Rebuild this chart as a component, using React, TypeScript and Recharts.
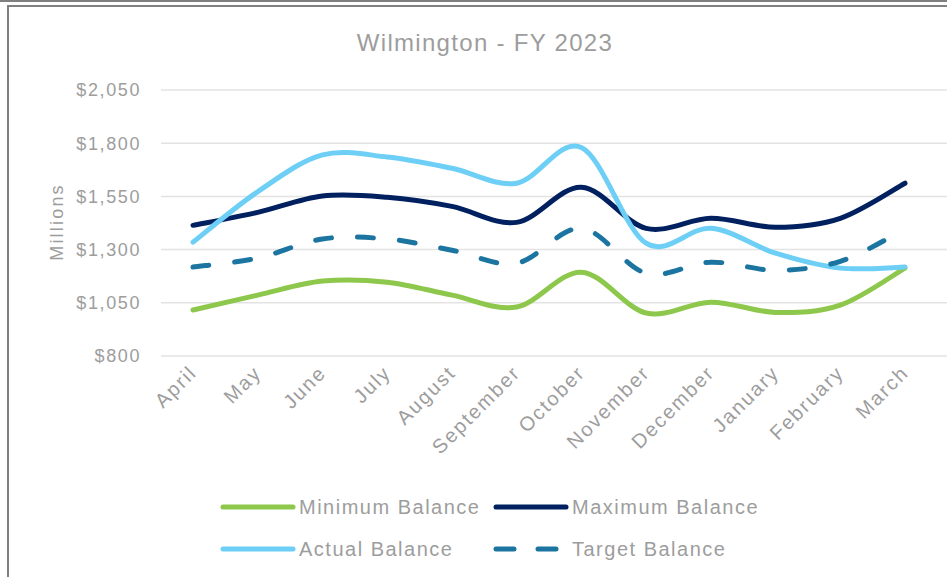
import { LineChart, Line, XAxis, YAxis, CartesianGrid } from 'recharts'

const months = ['April', 'May', 'June', 'July', 'August', 'September', 'October', 'November', 'December', 'January', 'February', 'March']
const minimumBalance = [1016, 1086, 1152, 1147, 1086, 1030, 1194, 1002, 1053, 1005, 1039, 1213]
const maximumBalance = [1414, 1475, 1552, 1546, 1503, 1428, 1593, 1400, 1447, 1405, 1447, 1612]
const actualBalance = [1335, 1572, 1745, 1735, 1682, 1612, 1780, 1330, 1400, 1283, 1213, 1218]
const targetBalance = [1218, 1260, 1350, 1350, 1297, 1236, 1400, 1189, 1241, 1203, 1245, 1396]
const yTicks = [800, 1050, 1300, 1550, 1800, 2050]

const data = months.map((month, i) => ({
  month,
  minimum: minimumBalance[i],
  maximum: maximumBalance[i],
  actual: actualBalance[i],
  target: targetBalance[i],
}))

const series = [
  { key: 'minimum', name: 'Minimum Balance', color: '#8DC74B', dash: undefined },
  { key: 'maximum', name: 'Maximum Balance', color: '#002060', dash: undefined },
  { key: 'actual', name: 'Actual Balance', color: '#6DCFF6', dash: undefined },
  { key: 'target', name: 'Target Balance', color: '#1B75A0', dash: '16 26' },
]

const TEXT = '#9D9D9D'
const FONT = '"Liberation Sans", Arial, sans-serif'

// Excel-style smoothed line (Catmull-Rom as cubic beziers)
const excelSmooth = (context: any) => {
  let pts: number[][] = []
  return {
    areaStart() {},
    areaEnd() {},
    lineStart() {
      pts = []
    },
    point(x: number, y: number) {
      pts.push([+x, +y])
    },
    lineEnd() {
      if (!pts.length) return
      context.moveTo(pts[0][0], pts[0][1])
      for (let i = 0; i < pts.length - 1; i++) {
        const p0 = pts[Math.max(i - 1, 0)]
        const p1 = pts[i]
        const p2 = pts[i + 1]
        const p3 = pts[Math.min(i + 2, pts.length - 1)]
        context.bezierCurveTo(
          p1[0] + (p2[0] - p0[0]) / 6,
          p1[1] + (p2[1] - p0[1]) / 6,
          p2[0] - (p3[0] - p1[0]) / 6,
          p2[1] - (p3[1] - p1[1]) / 6,
          p2[0],
          p2[1]
        )
      }
    },
  }
}

const MonthTick = ({ x, y, payload }: any) => {
  const tx = x + 5
  const ty = y + 18
  return (
    <text
      x={tx}
      y={ty}
      transform={`rotate(-45, ${tx}, ${ty})`}
      textAnchor="end"
      fill={TEXT}
      fontSize={20}
      letterSpacing={1.9}
      fontFamily={FONT}
    >
      {payload.value}
    </text>
  )
}

const YLabel = () => (
  <text
    x={57}
    y={222}
    transform="rotate(-90, 57, 222)"
    textAnchor="middle"
    dominantBaseline="central"
    fill={TEXT}
    fontSize={18}
    letterSpacing={2.2}
    fontFamily={FONT}
  >
    Millions
  </text>
)

const legendPos = [
  { left: 220, top: 507 },
  { left: 493, top: 507 },
  { left: 220, top: 549 },
  { left: 493, top: 549 },
]

export default function App() {
  return (
    <div style={{ position: 'absolute', left: 0, top: 0, width: 947, height: 577, background: '#fff', overflow: 'hidden' }}>
      <div style={{ position: 'absolute', left: 0, top: 0, width: 947, height: 2, background: '#7F7F7F' }} />
      <div style={{ position: 'absolute', left: 7, top: 5, width: 980, height: 620, borderLeft: '2px solid #808080', borderTop: '2px solid #808080' }} />
      <div
        style={{
          position: 'absolute',
          left: 0,
          top: 28,
          width: 970,
          textAlign: 'center',
          fontFamily: FONT,
          fontSize: 24,
          letterSpacing: 1.3,
          color: TEXT,
          lineHeight: '30px',
        }}
      >
        Wilmington - FY 2023
      </div>
      <div style={{ position: 'absolute', left: 0, top: 0 }}>
        <LineChart width={947} height={577} data={data} margin={{ top: 90, right: 0, left: 0, bottom: 0 }}>
          <CartesianGrid vertical={false} stroke="#E3E3E3" strokeWidth={1.5} />
          <XAxis
            dataKey="month"
            axisLine={false}
            tickLine={false}
            tickSize={0}
            tickMargin={0}
            height={221}
            interval={0}
            padding={{ left: 32, right: 42 }}
            tick={<MonthTick />}
          />
          <YAxis
            width={161}
            domain={[800, 2050]}
            ticks={yTicks}
            axisLine={false}
            tickLine={false}
            tickSize={0}
            tickMargin={20}
            tickFormatter={(v) => `$${v.toLocaleString('en-US')}`}
            tick={{ fill: TEXT, fontSize: 18, fontFamily: FONT, letterSpacing: 1.6 }}
            label={{ position: 'center', content: () => <YLabel /> }}
          />
          {series.map((s) => (
            <Line
              key={s.key}
              dataKey={s.key}
              name={s.name}
              type={excelSmooth as any}
              stroke={s.color}
              strokeWidth={5}
              strokeDasharray={s.dash}
              strokeLinecap="round"
              dot={false}
              activeDot={false}
              isAnimationActive={false}
            />
          ))}
        </LineChart>
      </div>
      {series.map((s, i) => (
        <div
          key={s.key}
          style={{
            position: 'absolute',
            left: legendPos[i].left,
            top: legendPos[i].top - 12,
            height: 24,
            display: 'flex',
            alignItems: 'center',
            fontFamily: FONT,
            fontSize: 20,
            letterSpacing: 1.5,
            color: TEXT,
          }}
        >
          <svg width={79} height={24}>
            <line
              x1={3}
              y1={12}
              x2={73}
              y2={12}
              stroke={s.color}
              strokeWidth={5}
              strokeLinecap="round"
              strokeDasharray={s.dash ? '18 24' : undefined}
            />
          </svg>
          {s.name}
        </div>
      ))}
    </div>
  )
}
